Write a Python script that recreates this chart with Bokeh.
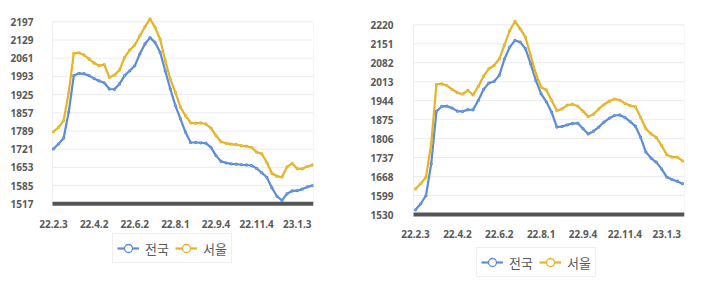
from bokeh.plotting import figure
from bokeh.models import Legend, LegendItem, FixedTicker, Range1d
from bokeh.core.properties import value
from bokeh.layouts import row
from bokeh.embed import file_html
from bokeh.resources import INLINE

# ---- data ----
tick_labels = ["22.2.3", "22.4.2", "22.6.2", "22.8.1", "22.9.4", "22.11.4", "23.1.3"]
tick_every = 8

left_nationwide = [1722, 1741, 1763, 1860, 1996, 2004, 2003, 1996, 1985, 1976,
                   1969, 1946, 1945, 1965, 1996, 2014, 2033, 2077, 2114, 2138,
                   2120, 2083, 2014, 1946, 1884, 1834, 1784, 1746, 1746, 1745,
                   1744, 1728, 1697, 1675, 1670, 1666, 1665, 1663, 1662, 1660,
                   1649, 1633, 1616, 1577, 1545, 1530, 1555, 1565, 1566, 1572,
                   1580, 1585]
left_seoul = [1787, 1803, 1828, 1933, 2079, 2081, 2073, 2058, 2043, 2033,
              2037, 1989, 1998, 2017, 2064, 2091, 2110, 2145, 2178, 2208,
              2176, 2132, 2052, 1983, 1933, 1877, 1846, 1819, 1818, 1819,
              1815, 1800, 1772, 1749, 1743, 1740, 1738, 1734, 1732, 1728,
              1710, 1704, 1672, 1631, 1620, 1617, 1655, 1668, 1648, 1648,
              1656, 1662]
left_y_ticks = [1517, 1585, 1653, 1721, 1789, 1857, 1925, 1993, 2061, 2129, 2197]

right_nationwide = [1547, 1569, 1599, 1714, 1905, 1923, 1924, 1917, 1906, 1905,
                    1911, 1911, 1945, 1985, 2008, 2014, 2036, 2096, 2139, 2163,
                    2157, 2133, 2078, 2017, 1969, 1940, 1902, 1848, 1850, 1856,
                    1861, 1862, 1842, 1823, 1833, 1848, 1866, 1880, 1890, 1892,
                    1883, 1868, 1851, 1811, 1757, 1735, 1720, 1696, 1666, 1657,
                    1651, 1642]
right_seoul = [1623, 1642, 1666, 1787, 2003, 2005, 1999, 1985, 1973, 1968,
               1981, 1965, 1996, 2033, 2060, 2072, 2096, 2147, 2199, 2232,
               2205, 2175, 2108, 2042, 1993, 1983, 1945, 1908, 1914, 1928,
               1931, 1924, 1906, 1886, 1895, 1914, 1930, 1942, 1950, 1946,
               1934, 1926, 1922, 1884, 1842, 1823, 1810, 1781, 1747, 1739,
               1739, 1725]
right_y_ticks = [1530, 1599, 1668, 1737, 1806, 1875, 1944, 2013, 2082, 2151, 2220]

series_names = ["전국", "서울"]
BLUE = "#5b8cd9"
GOLD = "#e6b327"
TEXT = "#595959"

FRAME_TOP = 14      # px from top of figure
FRAME_LEFT = 39
HEIGHT = 290
WIDTH = 360


def build(nat, seoul, y_ticks, top_px, bottom_px, area_l, area_r, first_px, last_px,
          label_dy, leg_loc):
    """Pixel geometry (figure coords): top_px/bottom_px rows of first/last y tick,
    area_l/area_r plot-area edges, first_px/last_px columns of first/last point."""
    n = len(nat)
    xs = list(range(n))
    py = (bottom_px - top_px) / (y_ticks[-1] - y_ticks[0])
    y0 = y_ticks[0] - (HEIGHT - bottom_px) / py
    y1 = y_ticks[-1] + (top_px - FRAME_TOP) / py
    px = (last_px - first_px) / (n - 1)
    x0 = -(first_px - FRAME_LEFT) / px
    x1 = (n - 1) + (area_r - last_px) / px
    gx0 = -(first_px - area_l) / px
    gx1 = x1

    p = figure(width=WIDTH, height=HEIGHT, output_backend="svg", toolbar_location=None,
               x_range=Range1d(x0, x1), y_range=Range1d(y0, y1),
               min_border_left=FRAME_LEFT, min_border_right=WIDTH - area_r,
               min_border_top=FRAME_TOP, min_border_bottom=0)
    p.outline_line_color = None
    p.background_fill_color = "white"
    p.border_fill_color = "white"
    p.grid.visible = False

    k = len(y_ticks)
    # gridlines and plot-area border
    p.segment(x0=[gx0] * k, y0=y_ticks, x1=[gx1] * k, y1=y_ticks,
              line_color="#ececec", line_width=1)
    p.segment(x0=[gx0, gx1], y0=[y_ticks[0]] * 2, x1=[gx0, gx1], y1=[y_ticks[-1]] * 2,
              line_color="#eeeeee", line_width=1)

    r1 = p.line(xs, nat, line_color=BLUE, line_width=2.2)
    r2 = p.line(xs, seoul, line_color=GOLD, line_width=2.2)
    m1 = p.scatter(xs, nat, marker="circle", size=2, fill_color="white",
                   line_color=BLUE, line_width=1.3)
    m2 = p.scatter(xs, seoul, marker="circle", size=2, fill_color="white",
                   line_color=GOLD, line_width=1.3)

    # thick category-axis line
    p.segment(x0=[gx0], y0=[y_ticks[0]], x1=[gx1], y1=[y_ticks[0]],
              line_color="#555555", line_width=4)

    # y axis
    p.yaxis.ticker = FixedTicker(ticks=y_ticks)
    p.yaxis.axis_line_color = None
    p.yaxis.major_tick_line_color = None
    p.yaxis.minor_tick_line_color = None
    p.yaxis.major_label_standoff = 0
    p.yaxis.major_label_text_font = "Noto Sans"
    p.yaxis.major_label_text_font_style = "bold"
    p.yaxis.major_label_text_font_size = "10px"
    p.yaxis.major_label_text_color = TEXT
    p.xaxis.visible = False

    # category labels
    ticks = [i * tick_every for i in range(len(tick_labels))]
    p.text(x=ticks, y=[y_ticks[0]] * len(ticks), text=tick_labels,
           y_offset=label_dy, text_align="center", text_baseline="middle",
           text_font=value("Noto Sans"), text_font_style="bold",
           text_font_size="10px", text_color=TEXT)

    legend = Legend(items=[LegendItem(label=series_names[0], renderers=[r1, m1]),
                           LegendItem(label=series_names[1], renderers=[r2, m2])],
                    orientation="horizontal", location=leg_loc)
    legend.border_line_color = "#e0e0e0"
    legend.background_fill_color = "white"
    legend.background_fill_alpha = 1.0
    legend.label_text_font = "Noto Sans CJK KR"
    legend.label_text_font_size = "13px"
    legend.label_text_color = TEXT
    legend.glyph_width = 22
    legend.glyph_height = 20
    legend.spacing = 6
    legend.padding = 4
    legend.margin = 0
    legend.label_standoff = 6
    p.add_layout(legend)
    return p


left = build(left_nationwide, left_seoul, left_y_ticks, 21.3, 203.3,
             52, 313, 53, 312, 20, (112 - FRAME_LEFT, 27))
right = build(right_nationwide, right_seoul, right_y_ticks, 24.3, 214.0,
              53, 324, 55, 322, 19, (116 - FRAME_LEFT, 13))

layout = row(left, right)
open("out.html", "w").write(file_html(layout, INLINE))
